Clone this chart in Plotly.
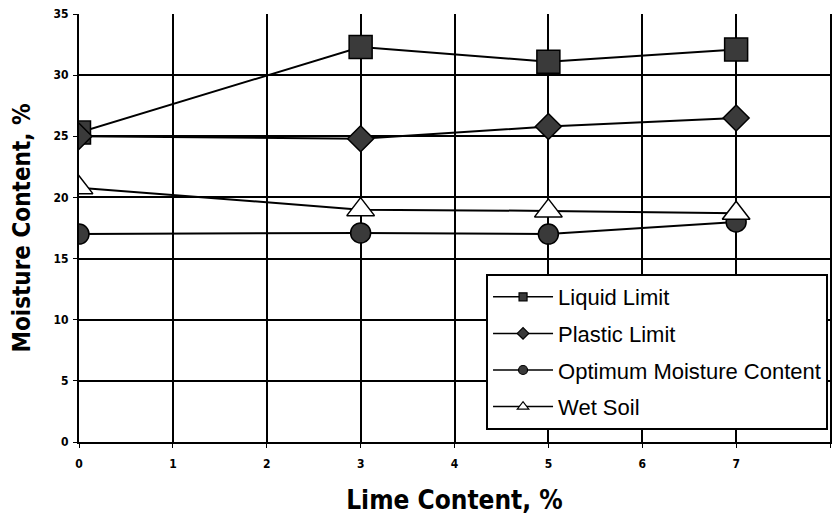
import plotly.graph_objects as go

# Lime content (%) and measured moisture contents (%)
lime = [0, 3, 5, 7]
liquid_limit = [25.3, 32.3, 31.1, 32.1]
plastic_limit = [25.0, 24.8, 25.8, 26.5]
optimum_moisture = [17.0, 17.1, 17.0, 18.0]
wet_soil = [20.8, 19.0, 18.9, 18.7]

x_ticks = [0, 1, 2, 3, 4, 5, 6, 7, 8]
y_ticks = [0, 5, 10, 15, 20, 25, 30, 35]

# name, values, marker symbol, plot marker size, fill, legend marker size
series = [
    ("Liquid Limit", liquid_limit, "square", 23, "#3a3a3a", 8),
    ("Plastic Limit", plastic_limit, "diamond", 20, "#3a3a3a", 9),
    ("Optimum Moisture Content", optimum_moisture, "circle", 20, "#3a3a3a", 9),
    ("Wet Soil", wet_soil, "triangle-up", 24, "white", 10),
]

fig = go.Figure()
for name, vals, sym, size, fill, leg_size in series:
    fig.add_trace(go.Scatter(
        x=lime, y=vals, mode="lines+markers", name=name, showlegend=False,
        line=dict(color="black", width=2),
        marker=dict(symbol=sym, size=size, color=fill,
                    line=dict(color="black", width=1.5)),
    ))
# legend entries with small key markers
for name, vals, sym, size, fill, leg_size in series:
    fig.add_trace(go.Scatter(
        x=[None], y=[None], mode="lines+markers", name=name, legendgroup=name,
        line=dict(color="black", width=1.5),
        marker=dict(symbol=sym, size=leg_size, color=fill,
                    line=dict(color="black", width=1.2)),
    ))

tick_font = dict(size=12, family="DejaVu Sans Condensed", weight="bold")

fig.update_layout(
    width=832, height=519,
    margin=dict(l=79, r=0, t=14, b=77),
    paper_bgcolor="white", plot_bgcolor="white",
    font=dict(family="Liberation Sans, Arial, sans-serif", color="black"),
    legend=dict(
        x=0.542, y=0.3925, xanchor="left", yanchor="top",
        bgcolor="white", bordercolor="black", borderwidth=2,
        font=dict(size=22, family="Liberation Sans, Arial, sans-serif"),
        tracegroupgap=5, itemwidth=60,
    ),
    xaxis=dict(
        range=[0, 8], tickvals=x_ticks, ticktext=[str(v) for v in x_ticks],
        showgrid=True, gridcolor="black", gridwidth=2,
        showline=True, linecolor="black", linewidth=2,
        ticks="outside", ticklen=4, tickcolor="black",
        tickfont=tick_font, ticklabelstandoff=6, zeroline=False,
        title=dict(text="Lime Content, %", standoff=20,
                   font=dict(size=26, family="DejaVu Sans Condensed", weight="bold")),
    ),
    yaxis=dict(
        range=[0, 35], tickvals=y_ticks,
        showgrid=True, gridcolor="black", gridwidth=2,
        showline=True, linecolor="black", linewidth=2, mirror=True,
        ticks="outside", ticklen=4, tickcolor="black",
        tickfont=tick_font, ticklabelstandoff=2, zeroline=False,
        title=dict(text="Moisture Content, %", standoff=16,
                   font=dict(size=24, family="DejaVu Sans Condensed", weight="bold")),
    ),
)

fig.write_html("out.html")
